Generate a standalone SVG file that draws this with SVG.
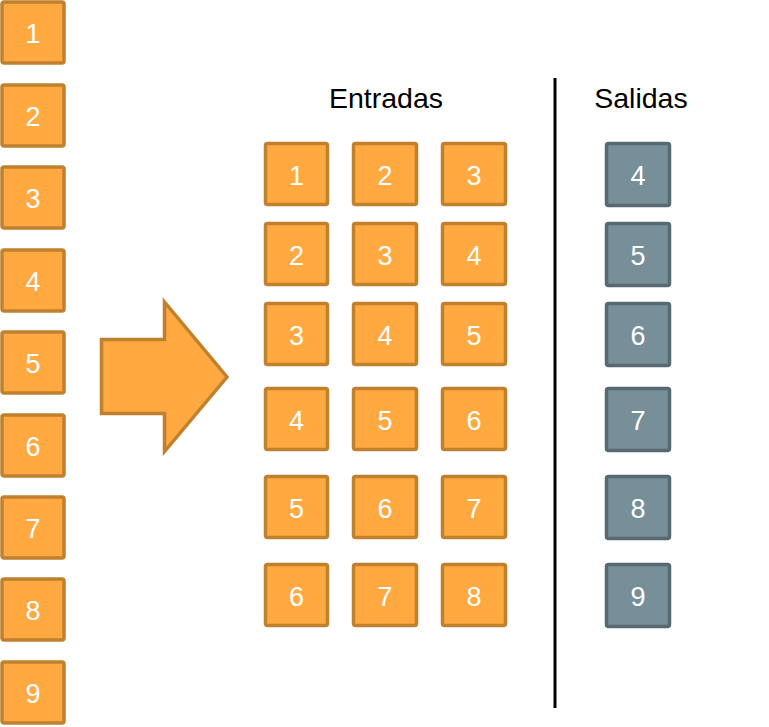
<svg xmlns="http://www.w3.org/2000/svg" width="769" height="727" viewBox="0 0 769 727">
<style>
.o{fill:#FFA940;stroke:#C0812F;stroke-width:3.5}
.g{fill:#778F99;stroke:#576A71;stroke-width:3.5}
.n{font-family:"Liberation Sans",Arial,sans-serif;font-size:27px;fill:#fff;text-anchor:middle}
.h{font-family:"Liberation Sans",Arial,sans-serif;font-size:28.5px;fill:#000;text-anchor:middle}
</style>
<rect width="769" height="727" fill="#fff"/>
<g id="input-sequence">
<g id="s1"><rect class="o" x="2" y="2" width="62" height="61" rx="2"/><text class="n" x="33" y="43">1</text></g>
<g id="s2"><rect class="o" x="2" y="85" width="62" height="61" rx="2"/><text class="n" x="33" y="126">2</text></g>
<g id="s3"><rect class="o" x="2" y="167" width="62" height="61" rx="2"/><text class="n" x="33" y="208">3</text></g>
<g id="s4"><rect class="o" x="2" y="250" width="62" height="61" rx="2"/><text class="n" x="33" y="291">4</text></g>
<g id="s5"><rect class="o" x="2" y="332" width="62" height="61" rx="2"/><text class="n" x="33" y="373">5</text></g>
<g id="s6"><rect class="o" x="2" y="415" width="62" height="61" rx="2"/><text class="n" x="33" y="456">6</text></g>
<g id="s7"><rect class="o" x="2" y="497" width="62" height="61" rx="2"/><text class="n" x="33" y="538">7</text></g>
<g id="s8"><rect class="o" x="2" y="579" width="62" height="61" rx="2"/><text class="n" x="33" y="620">8</text></g>
<g id="s9"><rect class="o" x="2" y="662" width="62" height="61" rx="2"/><text class="n" x="33" y="703">9</text></g>
</g>
<g id="big-arrow">
<polygon class="o" points="101.5,339.5 164.5,339.5 164.5,302 227,377 164.5,451.5 164.5,413.5 101.5,413.5"/>
</g>
<g id="connectors">
<line x1="555" y1="78" x2="555" y2="708" stroke="#000" stroke-width="3"/>
</g>
<text class="h" x="386" y="108">Entradas</text>
<text class="h" x="641" y="108">Salidas</text>
<g id="inputs">
<g id="r1"><rect class="o" x="265.5" y="143.5" width="62" height="61" rx="2"/><text class="n" x="296.5" y="185">1</text>
<rect class="o" x="353.5" y="143.5" width="63" height="61" rx="2"/><text class="n" x="385" y="185">2</text>
<rect class="o" x="442.5" y="143.5" width="63" height="61" rx="2"/><text class="n" x="474" y="185">3</text></g>
<g id="r2"><rect class="o" x="265.5" y="223.5" width="62" height="61" rx="2"/><text class="n" x="296.5" y="265">2</text>
<rect class="o" x="353.5" y="223.5" width="63" height="61" rx="2"/><text class="n" x="385" y="265">3</text>
<rect class="o" x="442.5" y="223.5" width="63" height="61" rx="2"/><text class="n" x="474" y="265">4</text></g>
<g id="r3"><rect class="o" x="265.5" y="303.5" width="62" height="61" rx="2"/><text class="n" x="296.5" y="345">3</text>
<rect class="o" x="353.5" y="303.5" width="63" height="61" rx="2"/><text class="n" x="385" y="345">4</text>
<rect class="o" x="442.5" y="303.5" width="63" height="61" rx="2"/><text class="n" x="474" y="345">5</text></g>
<g id="r4"><rect class="o" x="265.5" y="388.5" width="62" height="61" rx="2"/><text class="n" x="296.5" y="430">4</text>
<rect class="o" x="353.5" y="388.5" width="63" height="61" rx="2"/><text class="n" x="385" y="430">5</text>
<rect class="o" x="442.5" y="388.5" width="63" height="61" rx="2"/><text class="n" x="474" y="430">6</text></g>
<g id="r5"><rect class="o" x="265.5" y="476.5" width="62" height="61" rx="2"/><text class="n" x="296.5" y="518">5</text>
<rect class="o" x="353.5" y="476.5" width="63" height="61" rx="2"/><text class="n" x="385" y="518">6</text>
<rect class="o" x="442.5" y="476.5" width="63" height="61" rx="2"/><text class="n" x="474" y="518">7</text></g>
<g id="r6"><rect class="o" x="265.5" y="564.5" width="62" height="61" rx="2"/><text class="n" x="296.5" y="606">6</text>
<rect class="o" x="353.5" y="564.5" width="63" height="61" rx="2"/><text class="n" x="385" y="606">7</text>
<rect class="o" x="442.5" y="564.5" width="63" height="61" rx="2"/><text class="n" x="474" y="606">8</text></g>
</g>
<g id="outputs">
<g id="o4"><rect class="g" x="606.5" y="143.5" width="63" height="62" rx="2"/><text class="n" x="638" y="185">4</text></g>
<g id="o5"><rect class="g" x="606.5" y="223.5" width="63" height="62" rx="2"/><text class="n" x="638" y="265">5</text></g>
<g id="o6"><rect class="g" x="606.5" y="303.5" width="63" height="62" rx="2"/><text class="n" x="638" y="345">6</text></g>
<g id="o7"><rect class="g" x="606.5" y="388.5" width="63" height="62" rx="2"/><text class="n" x="638" y="430">7</text></g>
<g id="o8"><rect class="g" x="606.5" y="476.5" width="63" height="62" rx="2"/><text class="n" x="638" y="518">8</text></g>
<g id="o9"><rect class="g" x="606.5" y="564.5" width="63" height="62" rx="2"/><text class="n" x="638" y="606">9</text></g>
</g>
</svg>
